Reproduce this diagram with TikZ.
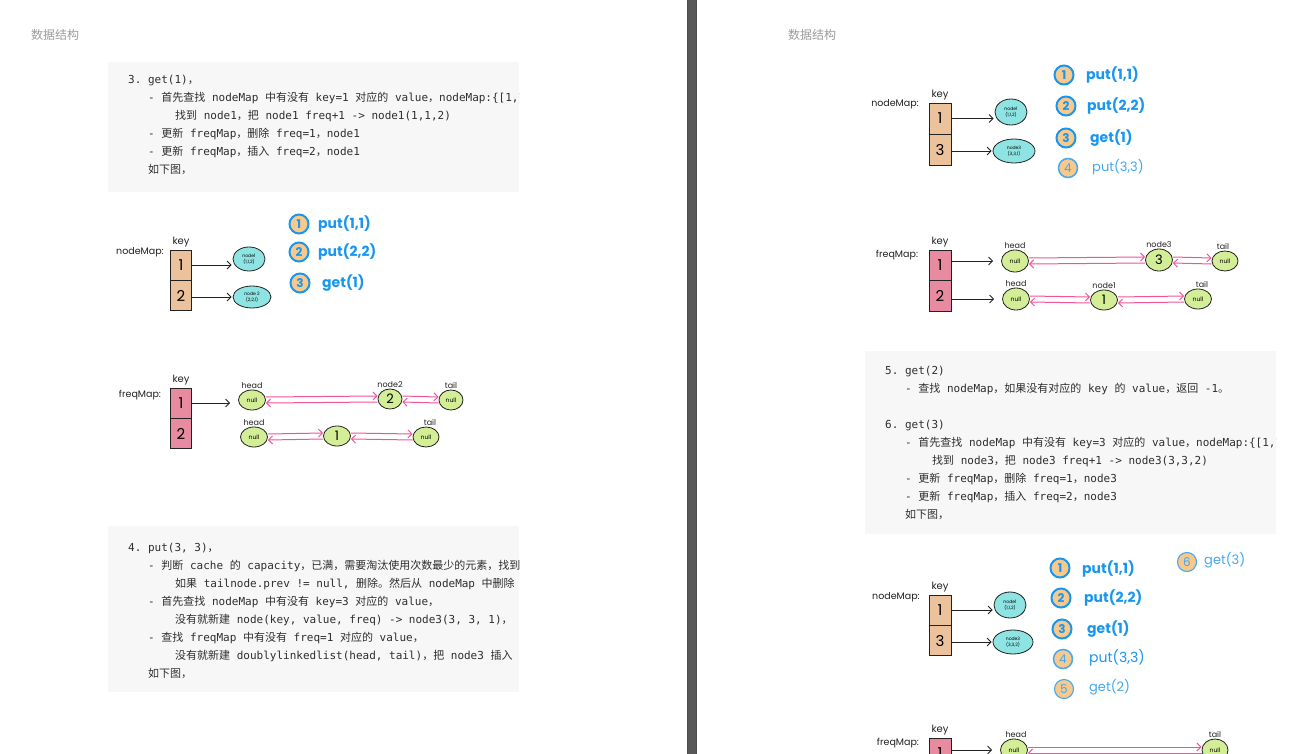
\documentclass[tikz,border=0pt]{standalone}
\usepackage{fontspec}
\setmonofont{DejaVu Sans Mono}
\newfontfamily\cjk{Noto Sans CJK SC}
\newfontfamily\hand{Poppins}
\usetikzlibrary{arrows.meta,positioning,shapes.geometric}
\definecolor{ink}{HTML}{222222}
\definecolor{codeink}{HTML}{2E2E2E}
\definecolor{codebg}{HTML}{F7F7F7}
\definecolor{headgray}{HTML}{9B9B9B}
\definecolor{divider}{HTML}{585858}
\definecolor{tanfill}{HTML}{EBC29C}
\definecolor{pinkfill}{HTML}{E98BA0}
\definecolor{cyanfill}{HTML}{8EE4E2}
\definecolor{greenfill}{HTML}{D3EE96}
\definecolor{linkpink}{HTML}{F0559C}
\definecolor{opblue}{HTML}{1A96EE}
\definecolor{oplight}{HTML}{45A8F0}
\definecolor{ringfill}{HTML}{F7C98C}
\newcommand{\zh}[1]{{\cjk #1}}
\tikzset{
  codeline/.style={anchor=base west, inner sep=0pt, text=codeink, font=\ttfamily\fontsize{11}{13}\selectfont},
  pagehead/.style={anchor=west, inner sep=0pt, text=headgray, font=\cjk\fontsize{12}{12}\selectfont},
  maplabel/.style={inner sep=0pt, text=ink, font=\hand\fontsize{9.5}{10}\selectfont},
  keylabel/.style={inner sep=0pt, text=ink, font=\hand\fontsize{10}{10}\selectfont},
  listtag/.style={inner sep=0pt, text=ink, font=\hand\fontsize{8}{8}\selectfont},
  mapcell/.style={draw=ink, thick, fill=tanfill, minimum width=21pt, minimum height=30pt, inner sep=0pt, font=\hand\fontsize{15}{15}\selectfont},
  freqcell/.style={mapcell, fill=pinkfill},
  entry/.style={ellipse, draw=ink, thick, fill=cyanfill, inner sep=0pt, align=center, font=\hand\fontsize{4.5}{6}\selectfont},
  listnode/.style={ellipse, draw=ink, thick, fill=greenfill, inner sep=0pt, minimum width=27pt, minimum height=20pt, font=\hand\fontsize{6}{6}\selectfont},
  valnode/.style={listnode, font=\hand\fontsize{13}{13}\selectfont},
  ptr/.style={-{Straight Barb[length=4pt]}, thick, draw=ink, shorten >=1pt},
  link/.style={-{Straight Barb[length=4pt]}, line width=1pt, draw=linkpink},
  stepmark/.style={circle, draw=opblue, line width=2pt, fill=ringfill, minimum size=19pt, inner sep=0pt, text=opblue, font=\hand\bfseries\fontsize{12}{12}\selectfont},
  steplight/.style={stepmark, draw=oplight, line width=1.1pt, text=oplight, font=\hand\fontsize{12}{12}\selectfont},
  opcall/.style={anchor=west, inner sep=0pt, text=opblue, font=\hand\bfseries\fontsize{14}{14}\selectfont},
  oplight/.style={opcall, text=oplight, font=\hand\fontsize{13}{13}\selectfont}
}

\begin{document}
\begin{tikzpicture}[x=1pt, y=-1pt]
  \useasboundingbox (0,0) rectangle (1315,754);
  \clip (0,0) rectangle (1315,754);
  \fill[white] (0,0) rectangle (1315,754);

  % pages and divider
  \fill[divider] (687,0) rectangle (697,754);
  \draw[ink!80, line width=0.8pt] (687.4,0) -- (687.4,754) (696.6,0) -- (696.6,754);
  \node[pagehead] (head-l) at (31,35) {数据结构};
  \node[pagehead] (head-r) at (788,35) {数据结构};

  % step 3: get(1)
  \begin{scope}
    \clip (108,62) rectangle (519,192);
    \fill[codebg] (108,62) rectangle (519,192);
    \node[codeline] (q3-1) at (128,84) {3. get(1)\zh{，}};
    \node[codeline] (q3-2) at (148,102) {- \zh{首先查找} nodeMap \zh{中有没有} key=1 \zh{对应的} value\zh{，}nodeMap:\{[1,1]\}};
    \node[codeline] (q3-3) at (175,120) {\zh{找到} node1\zh{，}\zh{把} node1 freq+1 -> node1(1,1,2)};
    \node[codeline] (q3-4) at (148,138) {- \zh{更新} freqMap\zh{，}\zh{删除} freq=1\zh{，}node1};
    \node[codeline] (q3-5) at (148,156) {- \zh{更新} freqMap\zh{，}\zh{插入} freq=2\zh{，}node1};
    \node[codeline] (q3-6) at (148,174) {\zh{如下图，}};
  \end{scope}

  % nodeMap after get(1)
  \node[maplabel] (na-lab) at (140,252) {nodeMap:};
  \node[mapcell] (na-k1) at (181,265) {1};
  \node[mapcell, below=0pt of na-k1] (na-k2) {2};
  \node[keylabel, above=2pt of na-k1] (na-key) {key};
  \node[entry, minimum width=32pt, minimum height=24pt] (na-n1) at (249,259) {node1\\(1,1,2)};
  \node[entry, minimum width=38pt, minimum height=22pt] (na-n2) at (252,297) {node 2\\(2,2,1)};
  \draw[ptr] (na-k1.east) -- (na-k1.east -| na-n1.west);
  \draw[ptr] (na-k2.east |- na-n2) -- (na-n2.west);

  \node[stepmark] (sa-1) at (299,224) {1};
  \node[opcall] (oa-1) at (318,224) {put(1,1)};
  \node[stepmark] (sa-2) at (299,252) {2};
  \node[opcall] (oa-2) at (318,252) {put(2,2)};
  \node[stepmark] (sa-3) at (300,283) {3};
  \node[opcall] (oa-3) at (322,283) {get(1)};

  % freqMap after get(1)
  \node[maplabel] (fb-lab) at (140,395) {freqMap:};
  \node[freqcell] (fb-k1) at (181,403) {1};
  \node[freqcell, below=0pt of fb-k1] (fb-k2) {2};
  \node[keylabel, above=2pt of fb-k1] (fb-key) {key};
  \node[listnode] (fb-h1) at (252,400) {null};
  \node[valnode, minimum width=24pt] (fb-v1) at (390,399) {2};
  \node[listnode, minimum width=24pt] (fb-t1) at (451,400) {null};
  \node[listtag, above=1pt of fb-h1] (fb-h1lab) {head};
  \node[listtag, above=1pt of fb-v1] (fb-v1lab) {node2};
  \node[listtag, above=1pt of fb-t1] (fb-t1lab) {tail};
  \node[listnode] (fb-h2) at (254,437) {null};
  \node[valnode] (fb-v2) at (337,436) {1};
  \node[listnode, minimum width=26pt] (fb-t2) at (426,437) {null};
  \node[listtag, above=1pt of fb-h2] (fb-h2lab) {head};
  \node[listtag, above=1pt of fb-t2, xshift=4pt] (fb-t2lab) {tail};
  \draw[ptr, shorten >=8pt] (fb-k1.east) -- (fb-k1.east -| fb-h1.west);
  \draw[link] ([yshift=3pt]fb-h1.east) -- ([yshift=3pt]fb-v1.west);
  \draw[link] ([yshift=-3pt]fb-v1.west) -- ([yshift=-3pt]fb-h1.east);
  \draw[link] ([yshift=3pt]fb-v1.east) -- ([yshift=3pt]fb-t1.west);
  \draw[link] ([yshift=-3pt]fb-t1.west) -- ([yshift=-3pt]fb-v1.east);
  \draw[link] ([yshift=3pt]fb-h2.east) -- ([yshift=3pt]fb-v2.west);
  \draw[link] ([yshift=-3pt]fb-v2.west) -- ([yshift=-3pt]fb-h2.east);
  \draw[link] ([yshift=3pt]fb-v2.east) -- ([yshift=3pt]fb-t2.west);
  \draw[link] ([yshift=-3pt]fb-t2.west) -- ([yshift=-3pt]fb-v2.east);

  % step 4: put(3, 3)
  \begin{scope}
    \clip (108,526) rectangle (519,692);
    \fill[codebg] (108,526) rectangle (519,692);
    \node[codeline] (q4-1) at (128,551) {4. put(3, 3)\zh{，}};
    \node[codeline] (q4-2) at (148,569) {- \zh{判断} cache \zh{的} capacity\zh{，已满，需要淘汰使用次数最少的元素，找到}};
    \node[codeline] (q4-3) at (175,587) {\zh{如果} tailnode.prev != null, \zh{删除。然后从} nodeMap \zh{中删除}};
    \node[codeline] (q4-4) at (148,605) {- \zh{首先查找} nodeMap \zh{中有没有} key=3 \zh{对应的} value\zh{，}};
    \node[codeline] (q4-5) at (175,623) {\zh{没有就新建} node(key, value, freq) -> node3(3, 3, 1)\zh{，}};
    \node[codeline] (q4-6) at (148,641) {- \zh{查找} freqMap \zh{中有没有} freq=1 \zh{对应的} value\zh{，}};
    \node[codeline] (q4-7) at (175,659) {\zh{没有就新建} doublylinkedlist(head, tail)\zh{，}\zh{把} node3 \zh{插入}};
    \node[codeline] (q4-8) at (148,677) {\zh{如下图，}};
  \end{scope}

  % nodeMap after put(3,3)
  \node[maplabel] (nc-lab) at (895,104) {nodeMap:};
  \node[mapcell, minimum width=22pt, minimum height=31pt] (nc-k1) at (940,118.5) {1};
  \node[mapcell, minimum width=22pt, minimum height=31pt, below=0pt of nc-k1] (nc-k2) {3};
  \node[keylabel, above=2pt of nc-k1] (nc-key) {key};
  \node[entry, minimum width=32pt, minimum height=26pt] (nc-n1) at (1011,112) {node1\\(1,1,2)};
  \node[entry, minimum width=42pt, minimum height=24pt] (nc-n3) at (1014,151) {node3\\(3,3,1)};
  \draw[ptr] (nc-k1.east) -- (nc-k1.east -| nc-n1.west);
  \draw[ptr] (nc-k2.east |- nc-n3) -- (nc-n3.west);

  \node[stepmark] (sc-1) at (1064,75) {1};
  \node[opcall] (oc-1) at (1086,75) {put(1,1)};
  \node[stepmark] (sc-2) at (1066,106) {2};
  \node[opcall] (oc-2) at (1087,106) {put(2,2)};
  \node[stepmark] (sc-3) at (1066,138) {3};
  \node[opcall] (oc-3) at (1090,138) {get(1)};
  \node[steplight, line width=1.5pt] (sc-4) at (1068,168) {4};
  \node[oplight] (oc-4) at (1092,167) {put(3,3)};

  % freqMap after put(3,3)
  \node[maplabel] (fd-lab) at (897,255) {freqMap:};
  \node[freqcell, minimum width=22pt] (fd-k1) at (940,265) {1};
  \node[freqcell, minimum width=22pt, minimum height=31pt, below=0pt of fd-k1] (fd-k2) {2};
  \node[keylabel, above=2pt of fd-k1] (fd-key) {key};
  \node[listnode, minimum height=22pt] (fd-h1) at (1015,261) {null};
  \node[valnode, minimum height=22pt] (fd-v1) at (1159,260) {3};
  \node[listnode, minimum width=26pt] (fd-t1) at (1225,261) {null};
  \node[listtag, above=1pt of fd-h1] (fd-h1lab) {head};
  \node[listtag, above=1pt of fd-v1] (fd-v1lab) {node3};
  \node[listtag, above=1pt of fd-t1, xshift=-2pt] (fd-t1lab) {tail};
  \node[listnode, minimum height=22pt] (fd-h2) at (1016,299) {null};
  \node[valnode] (fd-v2) at (1104,300) {1};
  \node[listnode] (fd-t2) at (1198,299) {null};
  \node[listtag, above=1pt of fd-h2] (fd-h2lab) {head};
  \node[listtag, above=1pt of fd-v2] (fd-v2lab) {node1};
  \node[listtag, above=1pt of fd-t2, xshift=4pt] (fd-t2lab) {tail};
  \draw[ptr, shorten >=8pt] (fd-k1.east |- fd-h1) -- (fd-h1.west);
  \draw[ptr, shorten >=8pt] (fd-k2.east |- fd-h2) -- (fd-h2.west);
  \draw[link] ([yshift=3pt]fd-h1.east) -- ([yshift=3pt]fd-v1.west);
  \draw[link] ([yshift=-3pt]fd-v1.west) -- ([yshift=-3pt]fd-h1.east);
  \draw[link] ([yshift=3pt]fd-v1.east) -- ([yshift=3pt]fd-t1.west);
  \draw[link] ([yshift=-3pt]fd-t1.west) -- ([yshift=-3pt]fd-v1.east);
  \draw[link] ([yshift=3pt]fd-h2.east) -- ([yshift=3pt]fd-v2.west);
  \draw[link] ([yshift=-3pt]fd-v2.west) -- ([yshift=-3pt]fd-h2.east);
  \draw[link] ([yshift=3pt]fd-v2.east) -- ([yshift=3pt]fd-t2.west);
  \draw[link] ([yshift=-3pt]fd-t2.west) -- ([yshift=-3pt]fd-v2.east);

  % steps 5 and 6: get(2), get(3)
  \begin{scope}
    \clip (865,351) rectangle (1276,534);
    \fill[codebg] (865,351) rectangle (1276,534);
    \node[codeline] (q5-1) at (885,374) {5. get(2)};
    \node[codeline] (q5-2) at (905,392) {- \zh{查找} nodeMap\zh{，如果没有对应的} key \zh{的} value\zh{，返回} -1\zh{。}};
    \node[codeline] (q6-1) at (885,428) {6. get(3)};
    \node[codeline] (q6-2) at (905,446) {- \zh{首先查找} nodeMap \zh{中有没有} key=3 \zh{对应的} value\zh{，}nodeMap:\{[1,1]\}};
    \node[codeline] (q6-3) at (932,464) {\zh{找到} node3\zh{，}\zh{把} node3 freq+1 -> node3(3,3,2)};
    \node[codeline] (q6-4) at (905,482) {- \zh{更新} freqMap\zh{，}\zh{删除} freq=1\zh{，}node3};
    \node[codeline] (q6-5) at (905,500) {- \zh{更新} freqMap\zh{，}\zh{插入} freq=2\zh{，}node3};
    \node[codeline] (q6-6) at (905,518) {\zh{如下图，}};
  \end{scope}

  % nodeMap after get(3)
  \node[maplabel] (ne-lab) at (896,597) {nodeMap:};
  \node[mapcell, minimum width=22pt] (ne-k1) at (940,610) {1};
  \node[mapcell, minimum width=22pt, below=0pt of ne-k1] (ne-k2) {3};
  \node[keylabel, above=2pt of ne-k1] (ne-key) {key};
  \node[entry, minimum width=32pt, minimum height=26pt] (ne-n1) at (1010,605) {node1\\(1,1,2)};
  \node[entry, minimum width=40pt, minimum height=24pt] (ne-n3) at (1013,642) {node3\\(3,3,2)};
  \draw[ptr] (ne-k1.east) -- (ne-k1.east -| ne-n1.west);
  \draw[ptr] (ne-k2.east |- ne-n3) -- (ne-n3.west);

  \node[stepmark] (se-1) at (1060,568) {1};
  \node[opcall] (oe-1) at (1082,569) {put(1,1)};
  \node[stepmark] (se-2) at (1061,598) {2};
  \node[opcall] (oe-2) at (1084,598) {put(2,2)};
  \node[stepmark] (se-3) at (1062,629) {3};
  \node[opcall] (oe-3) at (1087,629) {get(1)};
  \node[steplight, line width=1.5pt] (se-4) at (1063,659) {4};
  \node[opcall, font=\hand\fontsize{14}{14}\selectfont] (oe-4) at (1089,658) {put(3,3)};
  \node[steplight] (se-5) at (1064,689) {5};
  \node[oplight] (oe-5) at (1089,687) {get(2)};
  \node[steplight] (se-6) at (1187,562) {6};
  \node[oplight] (oe-6) at (1204,560) {get(3)};

  % freqMap after get(3) (cut by the page edge)
  \node[maplabel] (ff-lab) at (898,743) {freqMap:};
  \node[freqcell, minimum width=22pt] (ff-k1) at (940,753) {1};
  \node[keylabel, above=2pt of ff-k1] (ff-key) {key};
  \node[listnode, minimum height=22pt] (ff-h1) at (1014,750) {null};
  \node[listnode, minimum width=26pt, minimum height=22pt] (ff-t1) at (1215,750) {null};
  \node[listtag, above=1pt of ff-h1, xshift=2pt] (ff-h1lab) {head};
  \node[listtag, above=1pt of ff-t1] (ff-t1lab) {tail};
  \draw[ptr, shorten >=8pt] (ff-k1.east |- ff-h1) -- (ff-h1.west);
  \draw[link] ([yshift=3pt]ff-h1.east) -- ([yshift=3pt]ff-t1.west);
  \draw[link] ([yshift=-3pt]ff-t1.west) -- ([yshift=-3pt]ff-h1.east);
\end{tikzpicture}
\end{document}
